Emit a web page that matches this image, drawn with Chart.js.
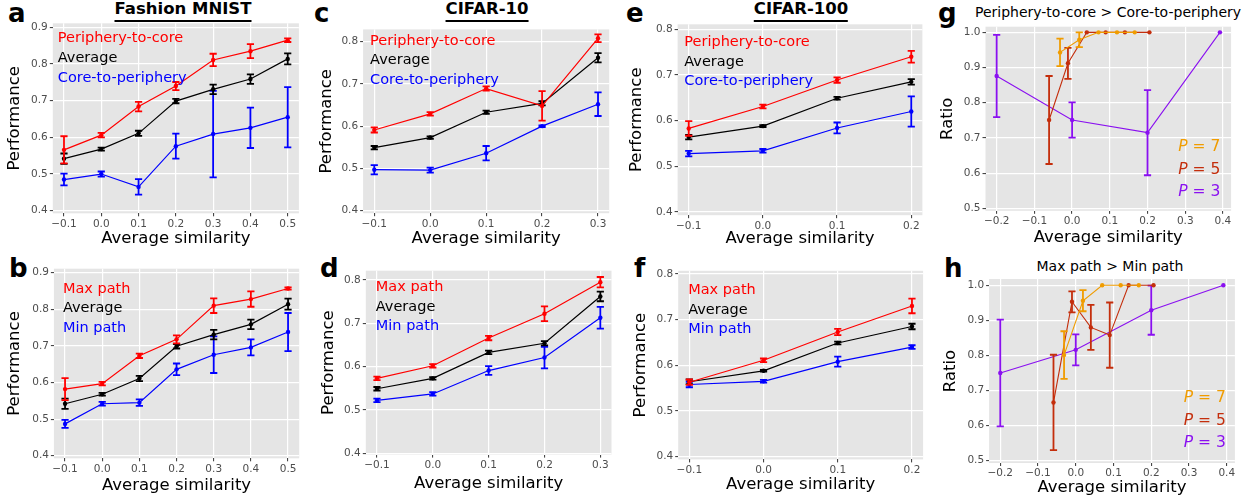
<!DOCTYPE html>
<html>
<head>
<meta charset="utf-8">
<script src="https://cdn.jsdelivr.net/npm/chart.js@4.4.0/dist/chart.umd.min.js"></script>
<style>
  body { margin: 0; width: 1256px; height: 501px; position: relative; background: #fff; overflow: hidden; font-family: 'DejaVu Sans', sans-serif; }
  canvas { position: absolute; }
  .tag { position: absolute; font-weight: bold; font-size: 26px; line-height: 26px; }
  .head { position: absolute; white-space: nowrap; transform: translateX(-50%); }
  .head.ds { font-weight: bold; font-size: 16.5px; line-height: 16.5px; }
  .head.ds span { display: inline-block; border-bottom: 2px solid #000; padding-bottom: 2px; }
  .head.sub { font-size: 14px; line-height: 14px; }
</style>
</head>
<body>
<div class="tag" style="left:8px;top:0px">a</div>
<div class="tag" style="left:314px;top:0px">c</div>
<div class="tag" style="left:626px;top:0px">e</div>
<div class="tag" style="left:938px;top:0px">g</div>
<div class="tag" style="left:9px;top:255px">b</div>
<div class="tag" style="left:320px;top:255px">d</div>
<div class="tag" style="left:634px;top:255px">f</div>
<div class="tag" style="left:944px;top:255px">h</div>
<div class="head ds" style="left:183px;top:1px"><span>Fashion MNIST</span></div>
<div class="head ds" style="left:487px;top:1px"><span>CIFAR-10</span></div>
<div class="head ds" style="left:801px;top:1px"><span>CIFAR-100</span></div>
<div class="head sub" style="left:1108px;top:5px">Periphery-to-core &gt; Core-to-periphery</div>
<div class="head sub" style="left:1110px;top:259px">Max path &gt; Min path</div>

<script>
// ---- Fashion MNIST (panels a, b)
const fmX = [-0.1, 0.0, 0.1, 0.2, 0.3, 0.4, 0.5];
const fmPtc = [0.566, 0.606, 0.684, 0.740, 0.811, 0.835, 0.865];
const fmPtcErr = [0.037, 0.006, 0.013, 0.011, 0.017, 0.019, 0.005];
const fmAvg = [0.542, 0.568, 0.611, 0.699, 0.731, 0.759, 0.814];
const fmAvgErr = [0.014, 0.004, 0.007, 0.006, 0.013, 0.013, 0.015];
const fmCtp = [0.485, 0.500, 0.465, 0.576, 0.609, 0.626, 0.655];
const fmCtpErr = [0.016, 0.007, 0.021, 0.034, 0.118, 0.055, 0.082];
const fmMax = [0.582, 0.597, 0.673, 0.718, 0.810, 0.828, 0.857];
const fmMaxErr = [0.030, 0.005, 0.006, 0.011, 0.020, 0.021, 0.003];
const fmMin = [0.487, 0.542, 0.545, 0.636, 0.676, 0.696, 0.738];
const fmMinErr = [0.011, 0.005, 0.009, 0.016, 0.050, 0.022, 0.052];

// ---- CIFAR-10 (panels c, d)
const c10X = [-0.1, 0.0, 0.1, 0.2, 0.3];
const c10Ptc = [0.591, 0.629, 0.689, 0.648, 0.808];
const c10PtcErr = [0.006, 0.004, 0.005, 0.035, 0.009];
const c10Avg = [0.549, 0.573, 0.633, 0.654, 0.762];
const c10AvgErr = [0.004, 0.003, 0.004, 0.005, 0.011];
const c10Ctp = [0.497, 0.496, 0.536, 0.600, 0.652];
const c10CtpErr = [0.011, 0.006, 0.017, 0.002, 0.028];
const c10Max = [0.573, 0.602, 0.666, 0.722, 0.795];
const c10MaxErr = [0.004, 0.004, 0.005, 0.017, 0.012];
const c10Min = [0.522, 0.537, 0.591, 0.621, 0.713];
const c10MinErr = [0.004, 0.004, 0.010, 0.025, 0.025];

// ---- CIFAR-100 (panels e, f)
const c100X = [-0.1, 0.0, 0.1, 0.2];
const c100Ptc = [0.583, 0.631, 0.689, 0.740];
const c100PtcErr = [0.016, 0.004, 0.006, 0.013];
const c100Avg = [0.564, 0.588, 0.649, 0.685];
const c100AvgErr = [0.005, 0.002, 0.003, 0.006];
const c100Ctp = [0.528, 0.534, 0.584, 0.620];
const c100CtpErr = [0.006, 0.004, 0.012, 0.033];
const c100Max = [0.563, 0.611, 0.673, 0.730];
const c100MaxErr = [0.006, 0.004, 0.007, 0.016];
const c100Min = [0.558, 0.565, 0.608, 0.640];
const c100MinErr = [0.006, 0.003, 0.011, 0.004];

// ---- ratio panels (g: periphery-to-core > core-to-periphery, h: max path > min path)
const gP7X = [-0.032, 0.019, 0.070, 0.119, 0.166];
const gP7 = [0.943, 0.979, 1.0, 1.0, 1.0];
const gP7Err = [0.039, 0.021, 0, 0, 0];
const gP5X = [-0.061, -0.011, 0.039, 0.089, 0.140, 0.205];
const gP5 = [0.751, 0.912, 1.0, 1.0, 1.0, 1.0];
const gP5Err = [0.125, 0.044, 0, 0, 0, 0];
const gP3X = [-0.2, 0.0, 0.2, 0.392];
const gP3 = [0.876, 0.751, 0.715, 1.0];
const gP3Err = [0.117, 0.050, 0.121, 0];

const hP7X = [-0.031, 0.019, 0.070, 0.119, 0.167];
const hP7 = [0.801, 0.956, 1.0, 1.0, 1.0];
const hP7Err = [0.068, 0.030, 0, 0, 0];
const hP5X = [-0.059, -0.010, 0.040, 0.090, 0.140, 0.206];
const hP5 = [0.666, 0.953, 0.880, 0.858, 1.0, 1.0];
const hP5Err = [0.136, 0.030, 0.064, 0.093, 0, 0];
const hP3X = [-0.2, 0.0, 0.2, 0.391];
const hP3 = [0.750, 0.816, 0.929, 1.0];
const hP3Err = [0.152, 0.044, 0.070, 0];

// tick labels
const perfTicksFm = [0.4, 0.5, 0.6, 0.7, 0.8, 0.9];
const perfTicksC = [0.4, 0.5, 0.6, 0.7, 0.8];
const ratioTicks = [0.5, 0.6, 0.7, 0.8, 0.9, 1.0];
const simTicks = [-0.2, -0.1, 0.0, 0.1, 0.2, 0.3, 0.4];

const RED = '#ff0000', BLACK = '#000000', BLUE = '#0000ff';
const P7C = '#f09c00', P5C = '#c42e0c', P3C = '#8a10f0';
const FONT = "'DejaVu Sans', sans-serif";

function series(xs, ys, errs, color, width) {
    return {
        data: xs.map((x, i) => ({x: x, y: ys[i]})),
        err: errs,
        borderColor: color,
        backgroundColor: color,
        borderWidth: width || 1.2,
        pointRadius: 2.2,
        pointBorderWidth: 0,
        tension: 0,
    };
}

function fmt(v) {
    if (Math.abs(v) < 1e-9) return '0.0';
    return (v < 0 ? '\u2212' : '') + Math.abs(v).toFixed(1);
}

// grey panel background
const panelBg = {
    id: 'panelBg',
    beforeDraw(chart) {
        const a = chart.chartArea;
        chart.ctx.save();
        chart.ctx.fillStyle = '#e5e5e5';
        chart.ctx.fillRect(a.left, a.top, a.right - a.left, a.bottom - a.top);
        chart.ctx.restore();
    }
};

// vertical error bars with caps
const errorBars = {
    id: 'errorBars',
    afterDatasetDraw(chart, args) {
        const ds = chart.data.datasets[args.index];
        if (!ds.err) return;
        const ctx = chart.ctx, xs = chart.scales.x, ys = chart.scales.y;
        ctx.save();
        ctx.strokeStyle = ds.borderColor;
        ctx.lineWidth = 1.8;
        ds.data.forEach((p, i) => {
            const e = ds.err[i];
            if (!e) return;
            const px = xs.getPixelForValue(p.x);
            const top = ys.getPixelForValue(p.y + e);
            const bot = ys.getPixelForValue(p.y - e);
            ctx.beginPath();
            ctx.moveTo(px, top); ctx.lineTo(px, bot);
            ctx.moveTo(px - 3.6, top); ctx.lineTo(px + 3.6, top);
            ctx.moveTo(px - 3.6, bot); ctx.lineTo(px + 3.6, bot);
            ctx.stroke();
        });
        ctx.restore();
    }
};

function makeNotes(n) {
    return {
        id: 'notes',
        afterDatasetsDraw(chart) {
            const ctx = chart.ctx, a = chart.chartArea;
            ctx.save();
            ctx.textBaseline = 'middle';
            n.items.forEach((it, i) => {
                const y = a.top + n.dy + i * n.step;
                ctx.fillStyle = it[1];
                if (n.right) {
                    const xr = a.right - n.dx;
                    const rest = ' = ' + it[0];
                    ctx.font = '15.5px ' + FONT;
                    ctx.textAlign = 'right';
                    const w = ctx.measureText(rest).width;
                    ctx.fillText(rest, xr, y);
                    ctx.font = 'italic 15.5px ' + FONT;
                    ctx.fillText('P', xr - w, y);
                } else {
                    ctx.font = '14.5px ' + FONT;
                    ctx.textAlign = 'left';
                    ctx.fillText(it[0], a.left + n.dx, y);
                }
            });
            ctx.restore();
        }
    };
}

const ptcNotes = [['Periphery-to-core', RED], ['Average', BLACK], ['Core-to-periphery', BLUE]];
const pathNotes = [['Max path', RED], ['Average', BLACK], ['Min path', BLUE]];
const pNotes = [['7', P7C], ['5', P5C], ['3', P3C]];

const panels = [
    {area: [52.8, 23.3, 298.9, 213.3], xr: [-0.13, 0.53], yr: [0.393, 0.911], xTicks: fmX, yTicks: perfTicksFm,
     yLabel: 'Performance', yTitleX: 15, xTitleY: 238.5,
     sets: [series(fmX, fmPtc, fmPtcErr, RED), series(fmX, fmAvg, fmAvgErr, BLACK), series(fmX, fmCtp, fmCtpErr, BLUE)],
     notes: {dx: 5, dy: 15, step: 20, items: ptcNotes}},
    {area: [53.9, 268.7, 299.2, 458.3], xr: [-0.13, 0.53], yr: [0.393, 0.911], xTicks: fmX, yTicks: perfTicksFm,
     yLabel: 'Performance', yTitleX: 15, xTitleY: 486,
     sets: [series(fmX, fmMax, fmMaxErr, RED), series(fmX, fmAvg, fmAvgErr, BLACK), series(fmX, fmMin, fmMinErr, BLUE)],
     notes: {dx: 9, dy: 20.5, step: 19.5, items: pathNotes}},
    {area: [363.1, 29.4, 609.2, 213.2], xr: [-0.12, 0.32], yr: [0.394, 0.829], xTicks: c10X, yTicks: perfTicksC,
     yLabel: 'Performance', yTitleX: 327, xTitleY: 239,
     sets: [series(c10X, c10Ptc, c10PtcErr, RED), series(c10X, c10Avg, c10AvgErr, BLACK), series(c10X, c10Ctp, c10CtpErr, BLUE)],
     notes: {dx: 7, dy: 11.5, step: 19.7, items: ptcNotes}},
    {area: [365.8, 270.7, 611.5, 454.6], xr: [-0.12, 0.32], yr: [0.397, 0.8215], xTicks: c10X, yTicks: perfTicksC,
     yLabel: 'Performance', yTitleX: 329, xTitleY: 484,
     sets: [series(c10X, c10Max, c10MaxErr, RED), series(c10X, c10Avg, c10AvgErr, BLACK), series(c10X, c10Min, c10MinErr, BLUE)],
     notes: {dx: 10, dy: 16.6, step: 19.7, items: pathNotes}},
    {area: [677.6, 24.3, 922.4, 215.2], xr: [-0.115, 0.215], yr: [0.393, 0.811], xTicks: c100X, yTicks: perfTicksC,
     yLabel: 'Performance', yTitleX: 637, xTitleY: 239,
     sets: [series(c100X, c100Ptc, c100PtcErr, RED), series(c100X, c100Avg, c100AvgErr, BLACK), series(c100X, c100Ctp, c100CtpErr, BLUE)],
     notes: {dx: 6.7, dy: 18, step: 19.7, items: ptcNotes}},
    {area: [678.2, 270.8, 923.1, 459.4], xr: [-0.115, 0.215], yr: [0.394, 0.807], xTicks: c100X, yTicks: perfTicksC,
     yLabel: 'Performance', yTitleX: 641, xTitleY: 485,
     sets: [series(c100X, c100Max, c100MaxErr, RED), series(c100X, c100Avg, c100AvgErr, BLACK), series(c100X, c100Min, c100MinErr, BLUE)],
     notes: {dx: 10, dy: 19.6, step: 19.5, items: pathNotes}},
    {area: [985.5, 26.7, 1231.1, 210.8], xr: [-0.2296, 0.4216], yr: [0.493, 1.016], xTicks: simTicks, yTicks: ratioTicks,
     yLabel: 'Ratio', yTitleX: 948, xTitleY: 237.5,
     sets: [series(gP7X, gP7, gP7Err, P7C, 1.1), series(gP5X, gP5, gP5Err, P5C, 1.1), series(gP3X, gP3, gP3Err, P3C, 1.1)],
     notes: {right: true, dx: 10.7, dy: 120, step: 22.8, items: pNotes}},
    {area: [989.1, 279, 1234.9, 463], xr: [-0.2296, 0.4216], yr: [0.4934, 1.018], xTicks: simTicks, yTicks: ratioTicks,
     yLabel: 'Ratio', yTitleX: 951, xTitleY: 488,
     sets: [series(hP7X, hP7, hP7Err, P7C, 1.1), series(hP5X, hP5, hP5Err, P5C, 1.1), series(hP3X, hP3, hP3Err, P3C, 1.1)],
     notes: {right: true, dx: 9, dy: 118.7, step: 22.8, items: pNotes}},
];

function axis(range, ticks, title) {
    return {
        type: 'linear',
        min: range[0],
        max: range[1],
        bounds: 'data',
        afterBuildTicks: s => { s.ticks = ticks.map(v => ({value: v})); },
        grid: { color: '#ffffff', lineWidth: 1.2, tickColor: '#333333', tickLength: 3, tickWidth: 1 },
        border: { display: false },
        ticks: { color: '#4d4d4d', font: { family: FONT, size: 10.5, lineHeight: 1 }, padding: 2,
                 autoSkip: false, maxRotation: 0, callback: v => fmt(v) },
        title: { display: true, text: title, color: '#000000', padding: 0,
                 font: { family: FONT, size: 16.5 } },
    };
}

panels.forEach(p => {
    const [l, t, r, b] = p.area;
    const lh = 16.5 * 1.2;
    const cl = p.yTitleX - lh / 2;
    const cb = p.xTitleY + lh / 2;
    const left = Math.floor(cl), top = Math.floor(t - 8);
    const right = Math.ceil(r + 12), bottom = Math.ceil(cb);
    const cv = document.createElement('canvas');
    cv.width = right - left;
    cv.height = bottom - top;
    cv.style.left = left + 'px';
    cv.style.top = top + 'px';
    cv.style.width = (right - left) + 'px';
    cv.style.height = (bottom - top) + 'px';
    document.body.appendChild(cv);

    const xAxis = axis(p.xr, p.xTicks, 'Average similarity');
    xAxis.ticks.padding = 2.5;
    xAxis.afterFit = s => { s.height = cb - b; s.paddingLeft = 0; s.paddingRight = 0; };
    const yAxis = axis(p.yr, p.yTicks, p.yLabel);
    yAxis.afterFit = s => { s.width = l - cl; s.paddingTop = 0; s.paddingBottom = 0; };

    new Chart(cv, {
        type: 'line',
        data: { datasets: p.sets },
        options: {
            responsive: false,
            animation: false,
            events: [],
            layout: { padding: { left: cl - left, top: t - top, right: right - r, bottom: bottom - cb } },
            plugins: { legend: { display: false }, tooltip: { enabled: false } },
            scales: { x: xAxis, y: yAxis },
        },
        plugins: [panelBg, errorBars, makeNotes(p.notes)],
    });
});
</script>
</body>
</html>
